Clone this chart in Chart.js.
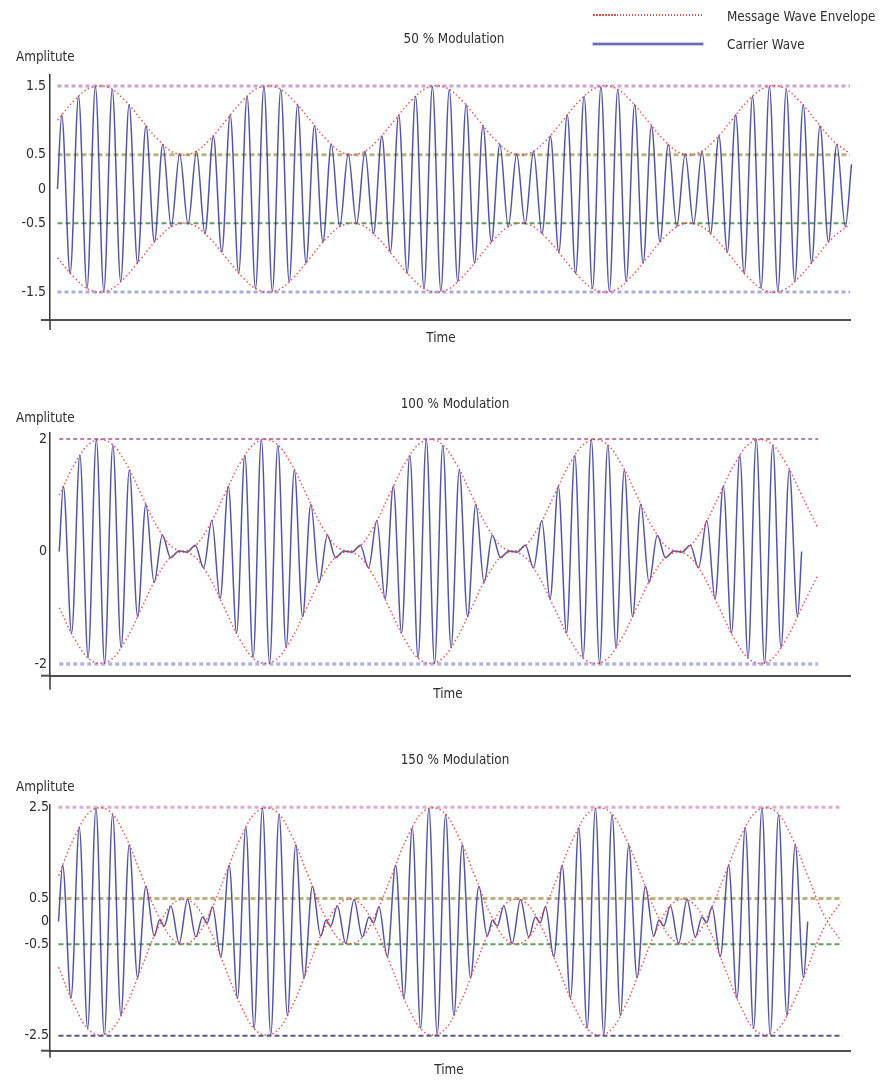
<!DOCTYPE html>
<html lang="en">
<head>
  <meta charset="UTF-8" />
  <title>Amplitude Modulation</title>
  <script src="https://cdn.jsdelivr.net/npm/chart.js"></script>
  <style>
    body { margin: 0; background: #fff; }
    #page { position: relative; width: 882px; height: 1080px; overflow: hidden;
            font-family: "DejaVu Sans Condensed", "DejaVu Sans", sans-serif; font-stretch: condensed;
            font-size: 14.5px; line-height: 14px; color: #2e2e2e; }
    #page canvas { position: absolute; left: 0; }
    .lbl { position: absolute; white-space: nowrap; transform: scaleX(.92); transform-origin: left center; }
    .mid { transform: translateX(-50%) scaleX(.92); transform-origin: center center; }
    .key { position: absolute; left: 593px; width: 110px; }
  </style>
</head>
<body>
<div id="page">
  <canvas id="am50" width="882" height="350" style="top:0px"></canvas>
  <canvas id="am100" width="882" height="350" style="top:360px"></canvas>
  <canvas id="am150" width="882" height="350" style="top:730px"></canvas>

  <!-- legend (top right) -->
  <div class="key" style="top:14px;height:2px;background:repeating-linear-gradient(to right, rgba(225,60,60,.9) 0 1.5px, transparent 1.5px 3px)"></div>
  <div class="lbl" style="left:727px;top:9px">Message Wave Envelope</div>
  <div class="key" style="top:43px;height:2px;background:rgba(80,80,165,.85);box-shadow:0 0 1px 1px rgba(160,160,220,.6)"></div>
  <div class="lbl" style="left:727px;top:37px">Carrier Wave</div>

  <div class="lbl mid" style="left:454px;top:31px">50 % Modulation</div>
  <div class="lbl" style="left:16px;top:49px">Amplitute</div>
  <div class="lbl mid" style="left:441px;top:330px">Time</div>

  <div class="lbl mid" style="left:455px;top:396px">100 % Modulation</div>
  <div class="lbl" style="left:16px;top:410px">Amplitute</div>
  <div class="lbl mid" style="left:448px;top:686px">Time</div>

  <div class="lbl mid" style="left:455px;top:752px">150 % Modulation</div>
  <div class="lbl" style="left:16px;top:779px">Amplitute</div>
  <div class="lbl mid" style="left:449px;top:1062px">Time</div>
</div>

<script>
  // carrier peaks / troughs, one value every half carrier cycle
  const carrier50 = [
    1.08, -1.23, 1.35, -1.45, 1.49, -1.49, 1.45, -1.35, 1.23, -1.08, 0.92, -0.77, 0.65, -0.55, 0.51, -0.51, 0.55, -0.65, 0.77, -0.92,
    1.08, -1.23, 1.35, -1.45, 1.49, -1.49, 1.45, -1.35, 1.23, -1.08, 0.92, -0.77, 0.65, -0.55, 0.51, -0.51, 0.55, -0.65, 0.77, -0.92,
    1.08, -1.23, 1.35, -1.45, 1.49, -1.49, 1.45, -1.35, 1.23, -1.08, 0.92, -0.77, 0.65, -0.55, 0.51, -0.51, 0.55, -0.65, 0.77, -0.92,
    1.08, -1.23, 1.35, -1.45, 1.49, -1.49, 1.45, -1.35, 1.23, -1.08, 0.92, -0.77, 0.65, -0.55, 0.51, -0.51, 0.55, -0.65, 0.77, -0.92,
    1.08, -1.23, 1.35, -1.45, 1.49, -1.49, 1.45, -1.35, 1.23, -1.08, 0.92, -0.77, 0.65, -0.55
  ];
  const carrier100 = [
    1.16, -1.45, 1.71, -1.89, 1.99, -1.99, 1.89, -1.71, 1.45, -1.16, 0.84, -0.55, 0.29, -0.11, 0.01, -0.01, 0.11, -0.29, 0.55, -0.84,
    1.16, -1.45, 1.71, -1.89, 1.99, -1.99, 1.89, -1.71, 1.45, -1.16, 0.84, -0.55, 0.29, -0.11, 0.01, -0.01, 0.11, -0.29, 0.55, -0.84,
    1.16, -1.45, 1.71, -1.89, 1.99, -1.99, 1.89, -1.71, 1.45, -1.16, 0.84, -0.55, 0.29, -0.11, 0.01, -0.01, 0.11, -0.29, 0.55, -0.84,
    1.16, -1.45, 1.71, -1.89, 1.99, -1.99, 1.89, -1.71, 1.45, -1.16, 0.84, -0.55, 0.29, -0.11, 0.01, -0.01, 0.11, -0.29, 0.55, -0.84,
    1.16, -1.45, 1.71, -1.89, 1.99, -1.99, 1.89, -1.71, 1.45, -1.16
  ];
  // null = small wiggle at phase reversal, listed separately below
  const carrier150 = [
    1.23, -1.68, 2.06, -2.34, 2.48, -2.48, 2.34, -2.06, 1.68, -1.23, 0.77, -0.32, null, 0.34, -0.48, 0.48, -0.34, null, 0.32, -0.77,
    1.23, -1.68, 2.06, -2.34, 2.48, -2.48, 2.34, -2.06, 1.68, -1.23, 0.77, -0.32, null, 0.34, -0.48, 0.48, -0.34, null, 0.32, -0.77,
    1.23, -1.68, 2.06, -2.34, 2.48, -2.48, 2.34, -2.06, 1.68, -1.23, 0.77, -0.32, null, 0.34, -0.48, 0.48, -0.34, null, 0.32, -0.77,
    1.23, -1.68, 2.06, -2.34, 2.48, -2.48, 2.34, -2.06, 1.68, -1.23, 0.77, -0.32, null, 0.34, -0.48, 0.48, -0.34, null, 0.32, -0.77,
    1.23, -1.68, 2.06, -2.34, 2.48, -2.48, 2.34, -2.06, 1.68, -1.23
  ];
  const wiggles150 = [
    [6.07, 0.03], [6.35, -0.10], [8.65, 0.10], [8.93, -0.03],
    [16.07, 0.03], [16.35, -0.10], [18.65, 0.10], [18.93, -0.03],
    [26.07, 0.03], [26.35, -0.10], [28.65, 0.10], [28.93, -0.03],
    [36.07, 0.03], [36.35, -0.10], [38.65, 0.10], [38.93, -0.03]
  ];
  // last carrier point [time, value]
  const carrierEnd50 = [47.12, 0.36];
  const carrierEnd100 = [45, 0];
  const carrierEnd150 = [45, 0];

  // message envelope, one value per carrier cycle
  const envUp50 = [
    1.00, 1.29, 1.48, 1.48, 1.29, 1.00, 0.71, 0.52, 0.52, 0.71,
    1.00, 1.29, 1.48, 1.48, 1.29, 1.00, 0.71, 0.52, 0.52, 0.71,
    1.00, 1.29, 1.48, 1.48, 1.29, 1.00, 0.71, 0.52, 0.52, 0.71,
    1.00, 1.29, 1.48, 1.48, 1.29, 1.00, 0.71, 0.52, 0.52, 0.71,
    1.00, 1.29, 1.48, 1.48, 1.29, 1.00, 0.71, 0.52
  ];
  const envLo50 = [
    -1.00, -1.29, -1.48, -1.48, -1.29, -1.00, -0.71, -0.52, -0.52, -0.71,
    -1.00, -1.29, -1.48, -1.48, -1.29, -1.00, -0.71, -0.52, -0.52, -0.71,
    -1.00, -1.29, -1.48, -1.48, -1.29, -1.00, -0.71, -0.52, -0.52, -0.71,
    -1.00, -1.29, -1.48, -1.48, -1.29, -1.00, -0.71, -0.52, -0.52, -0.71,
    -1.00, -1.29, -1.48, -1.48, -1.29, -1.00, -0.71, -0.52
  ];
  const envUp100 = [
    1.00, 1.59, 1.95, 1.95, 1.59, 1.00, 0.41, 0.05, 0.05, 0.41,
    1.00, 1.59, 1.95, 1.95, 1.59, 1.00, 0.41, 0.05, 0.05, 0.41,
    1.00, 1.59, 1.95, 1.95, 1.59, 1.00, 0.41, 0.05, 0.05, 0.41,
    1.00, 1.59, 1.95, 1.95, 1.59, 1.00, 0.41, 0.05, 0.05, 0.41,
    1.00, 1.59, 1.95, 1.95, 1.59, 1.00, 0.41
  ];
  const envLo100 = [
    -1.00, -1.59, -1.95, -1.95, -1.59, -1.00, -0.41, -0.05, -0.05, -0.41,
    -1.00, -1.59, -1.95, -1.95, -1.59, -1.00, -0.41, -0.05, -0.05, -0.41,
    -1.00, -1.59, -1.95, -1.95, -1.59, -1.00, -0.41, -0.05, -0.05, -0.41,
    -1.00, -1.59, -1.95, -1.95, -1.59, -1.00, -0.41, -0.05, -0.05, -0.41,
    -1.00, -1.59, -1.95, -1.95, -1.59, -1.00, -0.41
  ];
  const envUp150 = [
    1.00, 1.88, 2.43, 2.43, 1.88, 1.00, 0.12, -0.43, -0.43, 0.12,
    1.00, 1.88, 2.43, 2.43, 1.88, 1.00, 0.12, -0.43, -0.43, 0.12,
    1.00, 1.88, 2.43, 2.43, 1.88, 1.00, 0.12, -0.43, -0.43, 0.12,
    1.00, 1.88, 2.43, 2.43, 1.88, 1.00, 0.12, -0.43, -0.43, 0.12,
    1.00, 1.88, 2.43, 2.43, 1.88, 1.00, 0.12, -0.43
  ];
  const envLo150 = [
    -1.00, -1.88, -2.43, -2.43, -1.88, -1.00, -0.12, 0.43, 0.43, -0.12,
    -1.00, -1.88, -2.43, -2.43, -1.88, -1.00, -0.12, 0.43, 0.43, -0.12,
    -1.00, -1.88, -2.43, -2.43, -1.88, -1.00, -0.12, 0.43, 0.43, -0.12,
    -1.00, -1.88, -2.43, -2.43, -1.88, -1.00, -0.12, 0.43, 0.43, -0.12,
    -1.00, -1.88, -2.43, -2.43, -1.88, -1.00, -0.12, 0.43
  ];

  // dashed reference levels and where they stop
  const refLevels50 = [1.5, 0.5, -0.5, -1.5];
  const refLevels100 = [2, -2];
  const refLevels150 = [2.5, 0.5, -0.5, -2.5];
  const refEnd50 = 47.05, refEnd100 = 46, refEnd150 = 47.1;

  // y tick labels
  const yTicks50 = [1.5, 0.5, 0, -0.5, -1.5];
  const yTicks100 = [2, 0, -2];
  const yTicks150 = [2.5, 0.5, 0, -0.5, -2.5];

  const FONT = '"DejaVu Sans Condensed", "DejaVu Sans", sans-serif';
  Chart.defaults.font.family = FONT;
  Chart.defaults.font.size = 14;
  Chart.defaults.color = '#2e2e2e';

  const mauve = { c: 'rgba(185,135,185,0.75)', w: 3, d: [4, 3] };
  const olive = { c: 'rgba(175,165,105,0.85)', w: 3, d: [5, 3] };
  const green = { c: 'rgba(70,140,70,0.85)', w: 2, d: [5, 3] };
  const lilac = { c: 'rgba(150,150,220,0.8)', w: 3, d: [4, 3] };

  // little overhang of the axes past their crossing point
  const axisCross = {
    id: 'axisCross',
    afterDraw(chart, args, opts) {
      const { ctx, chartArea: a } = chart;
      ctx.save();
      ctx.lineWidth = 2;
      ctx.strokeStyle = '#505050';
      ctx.beginPath();
      ctx.moveTo(a.left - 9, a.bottom);
      ctx.lineTo(a.left, a.bottom);
      ctx.stroke();
      ctx.lineWidth = 1.5;
      ctx.strokeStyle = '#333';
      ctx.beginPath();
      ctx.moveTo(a.left, a.bottom);
      ctx.lineTo(a.left, a.bottom + opts.down);
      ctx.stroke();
      ctx.restore();
    }
  };

  function carrierPoints(peaks, end, extra) {
    const pts = [{ x: 0, y: 0 }];
    peaks.forEach((v, i) => { if (v !== null) pts.push({ x: 0.25 + 0.5 * i, y: v }); });
    (extra || []).forEach(([x, y]) => pts.push({ x, y }));
    pts.push({ x: end[0], y: end[1] });
    return pts.sort((p, q) => p.x - q.x);
  }

  function makeChart(id, o) {
    const sets = [];
    o.levels.forEach((lv, i) => {
      const s = o.refStyles[i];
      sets.push({ data: [{ x: 0, y: lv }, { x: o.refEnd, y: lv }], borderColor: s.c, borderWidth: s.w,
                  borderDash: s.d, pointRadius: 0, order: 3 });
    });
    sets.push({ data: o.carrier, borderColor: 'rgba(55,55,150,0.85)', borderWidth: 1.5,
                cubicInterpolationMode: 'monotone', pointRadius: 0, order: 2, clip: 6 });
    [o.up, o.lo].forEach(env => {
      sets.push({ data: env.map((v, i) => ({ x: i, y: v })), borderColor: 'rgba(235,55,55,0.85)', borderWidth: 1.5,
                  borderDash: [1.5, 2.5], tension: 0.4, pointRadius: 0, order: 1, clip: 6 });
    });

    return new Chart(document.getElementById(id), {
      type: 'line',
      data: { datasets: sets },
      options: {
        responsive: false,
        animation: false,
        events: [],
        layout: { padding: { top: o.padTop, right: 32, bottom: 0, left: 0 } },
        plugins: { legend: { display: false }, tooltip: { enabled: false }, axisCross: { down: o.down } },
        scales: {
          x: {
            type: 'linear', min: o.xMin, max: o.xMax,
            grid: { display: false, drawTicks: false },
            ticks: { display: false },
            border: { display: true, color: '#505050', width: 2 },
            afterFit: s => { s.height = o.xAxisH; }
          },
          y: {
            min: o.yMin, max: o.yMax,
            grid: { display: false, drawTicks: false },
            border: { display: true, color: '#333', width: 1.5 },
            ticks: { padding: o.tickPad, autoSkip: false, font: { size: 14 }, color: '#2e2e2e', callback: v => String(v) },
            afterBuildTicks: s => { s.ticks = o.ticks.map(v => ({ value: v })); },
            afterFit: s => { s.width = 50; }
          }
        }
      },
      plugins: [axisCross]
    });
  }

  makeChart('am50', {
    carrier: carrierPoints(carrier50, carrierEnd50), up: envUp50, lo: envLo50,
    levels: refLevels50, refStyles: [mauve, olive, green, lilac], refEnd: refEnd50,
    ticks: yTicks50, xMin: -0.445, xMax: 47.03, yMin: -1.908, yMax: 1.66,
    padTop: 75, xAxisH: 30, down: 10, tickPad: 4
  });

  makeChart('am100', {
    carrier: carrierPoints(carrier100, carrierEnd100), up: envUp100, lo: envLo100,
    levels: refLevels100,
    refStyles: [{ c: 'rgba(160,100,150,0.8)', w: 2, d: [4, 3] }, { c: 'rgba(160,160,230,0.8)', w: 3.5, d: [4, 3] }],
    refEnd: refEnd100,
    ticks: yTicks100, xMin: -0.56, xMax: 47.93, yMin: -2.208, yMax: 2.107,
    padTop: 73, xAxisH: 34.3, down: 14, tickPad: 3
  });

  makeChart('am150', {
    carrier: carrierPoints(carrier150, carrierEnd150, wiggles150), up: envUp150, lo: envLo150,
    levels: refLevels150,
    refStyles: [{ c: 'rgba(210,160,200,0.85)', w: 3, d: [4, 3] }, olive, green, { c: 'rgba(70,70,140,0.9)', w: 2, d: [5, 3] }],
    refEnd: refEnd150,
    ticks: yTicks150, xMin: -0.51, xMax: 47.54, yMin: -2.83, yMax: 2.55,
    padTop: 75, xAxisH: 29.3, down: 7, tickPad: 1
  });
</script>
</body>
</html>
